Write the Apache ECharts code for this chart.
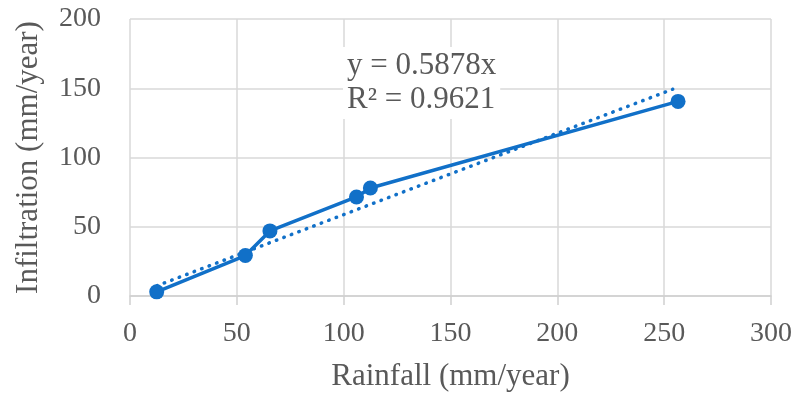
<!DOCTYPE html>
<html>
<head>
<meta charset="utf-8">
<script src="https://cdn.jsdelivr.net/npm/echarts@6/dist/echarts.min.js"></script>
<style>html,body{margin:0;padding:0;background:#fff}#c{width:800px;height:398px}</style>
</head>
<body>
<div id="c"></div>
<script>
const rainfall = [12.5, 54, 65.5, 106, 112.5, 256.5];
const infiltration = [3, 29.2, 47, 71.5, 78, 140.5];
const slope = 0.5878;
const r2 = 0.9621;
const xTicks = {min: 0, max: 300, interval: 50};
const yTicks = {min: 0, max: 200, interval: 50};
const xTitle = 'Rainfall (mm/year)';
const yTitle = 'Infiltration (mm/year)';

const xmin = Math.min(...rainfall), xmax = Math.max(...rainfall) - 2.5;
const trend = [[xmin, slope * xmin], [xmax, slope * xmax]];
const blue = '#1170C8';
const txt = '#595959';
const font = '"Liberation Serif", "Times New Roman", serif';

const chart = echarts.init(document.getElementById('c'), null, {renderer: 'canvas'});
chart.setOption({
  animation: false,
  backgroundColor: '#fff',
  grid: {left: 130, right: 29, top: 19, bottom: 102},
  xAxis: {
    type: 'value', min: xTicks.min, max: xTicks.max, interval: xTicks.interval,
    name: xTitle, nameLocation: 'middle', nameGap: 65,
    nameTextStyle: {fontFamily: font, fontSize: 31, color: txt},
    axisLine: {show: true, lineStyle: {color: '#d0d0d0', width: 1.5}},
    axisTick: {show: true, length: 9, lineStyle: {color: '#d0d0d0', width: 1.5}},
    axisLabel: {fontFamily: font, fontSize: 28, color: txt, margin: 24},
    splitLine: {show: true, lineStyle: {color: '#d9d9d9', width: 1.5}}
  },
  yAxis: {
    type: 'value', min: yTicks.min, max: yTicks.max, interval: yTicks.interval,
    name: yTitle, nameLocation: 'middle', nameGap: 86,
    nameTextStyle: {fontFamily: font, fontSize: 31, color: txt},
    axisLine: {show: false}, axisTick: {show: false},
    axisLabel: {fontFamily: font, fontSize: 28, color: txt, margin: 29},
    splitLine: {show: true, lineStyle: {color: '#d9d9d9', width: 1.5}}
  },
  series: [
    {
      type: 'line', data: trend, symbol: 'none', silent: true, z: 2,
      lineStyle: {color: blue, width: 3.5, type: [0.5, 7.5], cap: 'round'}
    },
    {
      type: 'line', data: rainfall.map((x, i) => [x, infiltration[i]]),
      symbol: 'circle', symbolSize: 15, z: 3,
      lineStyle: {color: blue, width: 3.5},
      itemStyle: {color: blue}
    }
  ],
  graphic: [{
    type: 'text', left: 343, top: 47, z: 10,
    style: {
      text: 'y = ' + slope + 'x\nR² = ' + r2,
      fontFamily: font, fontSize: 31, lineHeight: 34, fill: txt,
      backgroundColor: '#fff', padding: [2, 4, 2, 4]
    }
  }]
});
</script>
</body>
</html>
